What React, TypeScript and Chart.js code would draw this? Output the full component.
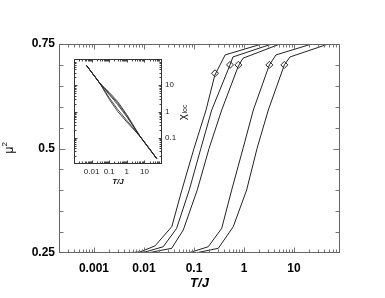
import React, { useEffect, useRef } from 'react';
import { Chart, registerables } from 'chart.js';

Chart.register(...registerables);

// ---- main panel: mu^2 versus T/J (five curves) ----
const curve1T = [0.0036, 0.0083, 0.0166, 0.036, 0.057, 0.1, 0.174, 0.26, 0.42, 2.26];
const curve1Mu = [0.25, 0.2524, 0.267, 0.313, 0.4, 0.5, 0.592, 0.675, 0.724, 0.75];
const curve2T = [0.0045, 0.0105, 0.0243, 0.045, 0.0805, 0.137, 0.226, 0.525, 0.6, 3.58];
const curve2Mu = [0.25, 0.2524, 0.265, 0.309, 0.401, 0.5, 0.592, 0.7, 0.719, 0.75];
const curve3T = [0.006, 0.0132, 0.0358, 0.061, 0.1164, 0.2, 0.358, 0.769, 0.955, 5.25];
const curve3Mu = [0.25, 0.2512, 0.2612, 0.305, 0.401, 0.5, 0.592, 0.697, 0.716, 0.75];
const curve4T = [0.045, 0.083, 0.193, 0.358, 0.568, 0.955, 1.535, 3.21, 4.37, 22.6];
const curve4Mu = [0.25, 0.2512, 0.265, 0.309, 0.401, 0.5, 0.592, 0.7, 0.724, 0.75];
const curve5T = [0.06, 0.12, 0.306, 0.61, 1.13, 1.82, 3.06, 6.4, 8.3, 48.5];
const curve5Mu = [0.25, 0.2512, 0.2612, 0.313, 0.401, 0.5, 0.592, 0.7, 0.719, 0.75];

const markerT = [0.263, 0.525, 0.77, 3.21, 6.4];
const markerMu = [0.68, 0.7, 0.7, 0.7, 0.7];

const xMajorValues = [0.001, 0.01, 0.1, 1, 10];
const xMajorLabels = ['0.001', '0.01', '0.1', '1', '10'];
const yMajorValues = [0.25, 0.5, 0.75];
const yMajorLabels = ['0.25', '0.5', '0.75'];
const yStep = 0.05;

// ---- inset: chi_loc versus T/J ----
const insetT = [0.005, 0.03, 0.1, 0.3, 1, 3, 6, 50];
const chiA = [58, 11.7, 5.35, 2.42, 0.76, 0.227, 0.107, 0.0162];
const chiB = [58, 11.7, 4.88, 2.11, 0.69, 0.217, 0.107, 0.0162];
const chiC = [58, 11.7, 4.45, 1.84, 0.63, 0.212, 0.107, 0.0162];
const chiD = [58, 11.7, 3.37, 1.21, 0.457, 0.189, 0.107, 0.0162];
const chiE = [58, 11.7, 2.94, 1.01, 0.398, 0.18, 0.107, 0.0162];

const insetXMajorValues = [0.01, 0.1, 1, 10];
const insetXMajorLabels = ['0.01', '0.1', '1', '10'];
const insetYMajorValues = [0.1, 1, 10];
const insetYMajorLabels = ['0.1', '1', '10'];

const FONT = '"Liberation Sans", Arial, Helvetica, sans-serif';

function logTicks(min: number, max: number): number[] {
  const out: number[] = [];
  const e0 = Math.floor(Math.log10(min));
  const e1 = Math.ceil(Math.log10(max));
  for (let e = e0; e <= e1; e++) {
    for (let m = 1; m <= 9; m++) {
      const v = Number((m * Math.pow(10, e)).toPrecision(6));
      if (v >= min * 0.9999 && v <= max * 1.0001) out.push(v);
    }
  }
  return out;
}

function linTicks(min: number, max: number, step: number): number[] {
  const out: number[] = [];
  const n = Math.round((max - min) / step);
  for (let i = 0; i <= n; i++) out.push(Number((min + i * step).toFixed(6)));
  return out;
}

function majorIndex(v: number, majors: number[], log: boolean): number {
  return majors.findIndex((m) =>
    log ? Math.abs(Math.log10(v) - Math.log10(m)) < 1e-6 : Math.abs(v - m) < 1e-9
  );
}

type TickCfg = {
  frameColor: string;
  tickColor: string;
  xMajorLen: number;
  xMinorLen: number;
  yMajorLen: number;
  yMinorLen: number;
  xMajors: number[];
  yMajors: number[];
  xLog: boolean;
  yLog: boolean;
  titles: (ctx: CanvasRenderingContext2D, chart: any) => void;
};

function makeFramePlugin(cfg: TickCfg) {
  return {
    id: 'frameTicks',
    afterDraw(chart: any) {
      const ctx: CanvasRenderingContext2D = chart.ctx;
      const a = chart.chartArea;
      const xs = chart.scales.x;
      const ys = chart.scales.y;
      const L = Math.round(a.left) + 0.5;
      const R = Math.round(a.right) - 0.5;
      const T = Math.round(a.top) + 0.5;
      const B = Math.round(a.bottom) - 0.5;
      ctx.save();
      ctx.lineWidth = 1;
      ctx.strokeStyle = cfg.tickColor;
      ctx.beginPath();
      for (const t of xs.ticks) {
        const p = Math.round(xs.getPixelForValue(t.value)) + 0.5;
        if (p <= L + 1 || p >= R - 1) continue;
        const major = majorIndex(t.value, cfg.xMajors, cfg.xLog) >= 0;
        const len = major ? cfg.xMajorLen : cfg.xMinorLen;
        ctx.moveTo(p, B);
        ctx.lineTo(p, B - len);
        ctx.moveTo(p, T);
        ctx.lineTo(p, T + len);
      }
      for (const t of ys.ticks) {
        const p = Math.round(ys.getPixelForValue(t.value)) + 0.5;
        if (p <= T + 1 || p >= B - 1) continue;
        const major = majorIndex(t.value, cfg.yMajors, cfg.yLog) >= 0;
        const len = major ? cfg.yMajorLen : cfg.yMinorLen;
        ctx.moveTo(L, p);
        ctx.lineTo(L + len, p);
        ctx.moveTo(R, p);
        ctx.lineTo(R - len, p);
      }
      ctx.stroke();
      ctx.strokeStyle = cfg.frameColor;
      ctx.strokeRect(L, T, R - L, B - T);
      cfg.titles(ctx, chart);
      ctx.restore();
    },
  };
}

function pts(xs: number[], ys: number[]) {
  return xs.map((x, i) => ({ x, y: ys[i] }));
}

export default function App() {
  const mainRef = useRef<HTMLCanvasElement>(null);
  const insetRef = useRef<HTMLCanvasElement>(null);

  useEffect(() => {
    const lineStyle = {
      borderColor: '#222',
      borderWidth: 1,
      pointRadius: 0,
      fill: false,
      tension: 0,
    };
    const curves: [number[], number[]][] = [
      [curve1T, curve1Mu],
      [curve2T, curve2Mu],
      [curve3T, curve3Mu],
      [curve4T, curve4Mu],
      [curve5T, curve5Mu],
    ];
    const xMin = 0.0002;
    const xMax = 83;

    const mainPlugin = makeFramePlugin({
      frameColor: '#666',
      tickColor: '#777',
      xMajorLen: 5,
      xMinorLen: 3,
      yMajorLen: 6,
      yMinorLen: 4,
      xMajors: xMajorValues,
      yMajors: yMajorValues,
      xLog: true,
      yLog: false,
      titles: (ctx) => {
        ctx.fillStyle = '#000';
        ctx.font = `italic bold 13px ${FONT}`;
        ctx.textAlign = 'center';
        ctx.textBaseline = 'middle';
        ctx.fillText('T/J', 199.5, 283);
        ctx.save();
        ctx.translate(10, 150);
        ctx.rotate(-Math.PI / 2);
        ctx.textAlign = 'left';
        ctx.textBaseline = 'middle';
        ctx.font = `12px ${FONT}`;
        ctx.fillText('μ', -3.5, 0);
        ctx.font = `8px ${FONT}`;
        ctx.fillText('2', 3.5, -5);
        ctx.restore();
      },
    });

    const main = new Chart(mainRef.current as HTMLCanvasElement, {
      type: 'line',
      data: {
        datasets: [
          ...curves.map(([t, m]) => ({ ...lineStyle, data: pts(t, m) })),
          {
            data: pts(markerT, markerMu),
            showLine: false,
            pointStyle: 'rectRot',
            pointRadius: 3.5,
            pointBackgroundColor: '#fff',
            pointBorderColor: '#222',
            pointBorderWidth: 1,
            borderColor: '#222',
          },
        ] as any,
      },
      options: {
        animation: false,
        responsive: false,
        devicePixelRatio: 1,
        layout: { padding: { left: 0, top: 44, right: 45, bottom: 0 } },
        plugins: { legend: { display: false }, tooltip: { enabled: false } },
        scales: {
          x: {
            type: 'logarithmic',
            min: xMin,
            max: xMax,
            position: 'bottom',
            afterBuildTicks: (s: any) => {
              s.ticks = logTicks(xMin, xMax).map((v) => ({ value: v }));
            },
            afterFit: (s: any) => {
              s.height = 45;
            },
            grid: { display: false, drawTicks: false },
            border: { display: false },
            ticks: {
              autoSkip: false,
              maxRotation: 0,
              minRotation: 0,
              padding: 8,
              color: '#000',
              font: { family: FONT, size: 12, weight: 'bold' },
              callback: (v: any) => {
                const i = majorIndex(Number(v), xMajorValues, true);
                return i >= 0 ? xMajorLabels[i] : '';
              },
            },
          },
          y: {
            type: 'linear',
            min: 0.25,
            max: 0.75,
            afterBuildTicks: (s: any) => {
              s.ticks = linTicks(0.25, 0.75, yStep).map((v) => ({ value: v }));
            },
            afterFit: (s: any) => {
              s.width = 59;
            },
            grid: { display: false, drawTicks: false },
            border: { display: false },
            ticks: {
              autoSkip: false,
              padding: 4,
              color: '#000',
              font: { family: FONT, size: 12, weight: 'bold' },
              callback: (v: any) => {
                const i = majorIndex(Number(v), yMajorValues, false);
                return i >= 0 ? yMajorLabels[i] : '';
              },
            },
          },
        },
      } as any,
      plugins: [mainPlugin],
    });

    const chis = [chiA, chiB, chiC, chiD, chiE];
    const ixMin = 0.001;
    const ixMax = 100;
    const iyMin = 0.01;
    const iyMax = 100;

    const insetPlugin = makeFramePlugin({
      frameColor: '#333',
      tickColor: '#444',
      xMajorLen: 3,
      xMinorLen: 2,
      yMajorLen: 3,
      yMinorLen: 2,
      xMajors: [0.001, 0.01, 0.1, 1, 10, 100],
      yMajors: [0.01, 0.1, 1, 10, 100],
      xLog: true,
      yLog: true,
      titles: (ctx) => {
        ctx.fillStyle = '#111';
        ctx.font = `italic bold 8px ${FONT}`;
        ctx.textAlign = 'center';
        ctx.textBaseline = 'middle';
        ctx.fillText('T/J', 118 - 64, 182 - 50);
        ctx.save();
        ctx.translate(183 - 64, 113 - 50);
        ctx.rotate(-Math.PI / 2);
        ctx.textAlign = 'left';
        ctx.textBaseline = 'middle';
        ctx.font = `11px ${FONT}`;
        ctx.fillText('χ', -7, 0);
        ctx.font = `7px ${FONT}`;
        ctx.fillText('loc', -0.5, 2);
        ctx.restore();
      },
    });

    const inset = new Chart(insetRef.current as HTMLCanvasElement, {
      type: 'line',
      data: {
        datasets: chis.map((c) => ({
          data: pts(insetT, c),
          borderColor: '#222',
          borderWidth: 0.8,
          pointRadius: 0,
          fill: false,
          tension: 0,
        })),
      },
      options: {
        animation: false,
        responsive: false,
        devicePixelRatio: 1,
        layout: { padding: { left: 10, top: 9, right: 0, bottom: 0 } },
        plugins: { legend: { display: false }, tooltip: { enabled: false } },
        scales: {
          x: {
            type: 'logarithmic',
            min: ixMin,
            max: ixMax,
            position: 'bottom',
            afterBuildTicks: (s: any) => {
              s.ticks = logTicks(ixMin, ixMax).map((v) => ({ value: v }));
            },
            afterFit: (s: any) => {
              s.height = 26;
            },
            grid: { display: false, drawTicks: false },
            border: { display: false },
            ticks: {
              autoSkip: false,
              maxRotation: 0,
              minRotation: 0,
              padding: 3,
              color: '#222',
              font: { family: FONT, size: 8 },
              callback: (v: any) => {
                const i = majorIndex(Number(v), insetXMajorValues, true);
                return i >= 0 ? insetXMajorLabels[i] : '';
              },
            },
          },
          y: {
            type: 'logarithmic',
            min: iyMin,
            max: iyMax,
            position: 'right',
            afterBuildTicks: (s: any) => {
              s.ticks = logTicks(iyMin, iyMax).map((v) => ({ value: v }));
            },
            afterFit: (s: any) => {
              s.width = 32;
            },
            grid: { display: false, drawTicks: false },
            border: { display: false },
            ticks: {
              autoSkip: false,
              padding: 3,
              color: '#222',
              font: { family: FONT, size: 8 },
              callback: (v: any) => {
                const i = majorIndex(Number(v), insetYMajorValues, true);
                return i >= 0 ? insetYMajorLabels[i] : '';
              },
            },
          },
        },
      } as any,
      plugins: [insetPlugin],
    });

    return () => {
      main.destroy();
      inset.destroy();
    };
  }, []);

  return (
    <div style={{ position: 'absolute', left: 0, top: 0, width: 385, height: 298, background: '#fff' }}>
      <canvas
        ref={mainRef}
        width={385}
        height={298}
        style={{ position: 'absolute', left: 0, top: 0, width: 385, height: 298 }}
      />
      <canvas
        ref={insetRef}
        width={130}
        height={140}
        style={{ position: 'absolute', left: 64, top: 50, width: 130, height: 140 }}
      />
    </div>
  );
}
